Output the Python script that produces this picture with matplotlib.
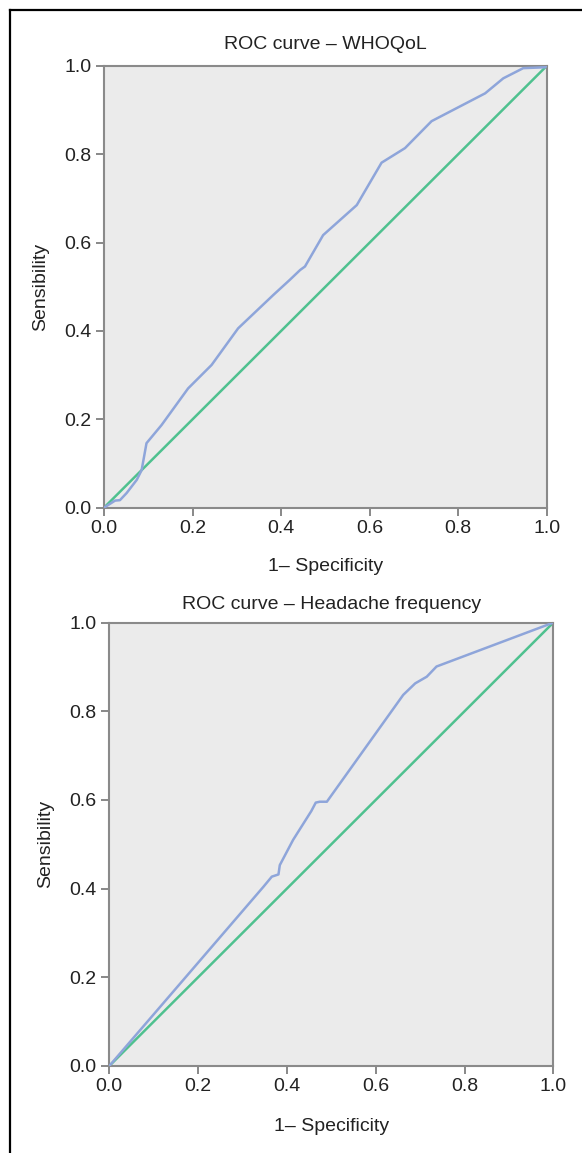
import matplotlib

matplotlib.use("Agg")
import matplotlib.pyplot as plt
from matplotlib.lines import Line2D

# ROC – WHOQoL
WHOQOL_FPR = [0.0, 0.025, 0.036, 0.051, 0.074, 0.085, 0.096, 0.130, 0.190,
              0.243, 0.303, 0.383, 0.420, 0.443, 0.454, 0.495, 0.571, 0.627,
              0.680, 0.740, 0.861, 0.902, 0.947, 0.996, 1.0]
WHOQOL_TPR = [0.0, 0.016, 0.017, 0.033, 0.063, 0.085, 0.146, 0.187, 0.270,
              0.323, 0.406, 0.482, 0.516, 0.538, 0.546, 0.617, 0.685, 0.781,
              0.814, 0.875, 0.938, 0.972, 0.995, 0.997, 1.0]

# ROC – Headache frequency
HEADACHE_FPR = [0.0, 0.347, 0.366, 0.381, 0.384, 0.414, 0.455, 0.465, 0.474,
                0.490, 0.662, 0.689, 0.715, 0.737, 1.0]
HEADACHE_TPR = [0.0, 0.404, 0.427, 0.432, 0.453, 0.510, 0.575, 0.594, 0.596,
                0.596, 0.837, 0.863, 0.878, 0.901, 1.0]

TICKS = [0.0, 0.2, 0.4, 0.6, 0.8, 1.0]
TICK_LABELS = ["0.0", "0.2", "0.4", "0.6", "0.8", "1.0"]

PANELS = [
    ("ROC curve \u2013 WHOQoL", WHOQOL_FPR, WHOQOL_TPR,
     [0.1787, 0.5597, 0.7606, 0.3831], 12, 15),
    ("ROC curve \u2013 Headache frequency", HEADACHE_FPR, HEADACHE_TPR,
     [0.1878, 0.0755, 0.7629, 0.3845], 10, 16.5),
]

plt.rcParams["font.family"] = ["Liberation Sans", "DejaVu Sans"]

figure = plt.figure(figsize=(5.82, 11.53), dpi=100)

# frame lines left over from the page crop
figure.add_artist(Line2D([10 / 582, 1.0], [1 - 10 / 1153] * 2, color="black",
                         linewidth=1.6, transform=figure.transFigure))
figure.add_artist(Line2D([10 / 582] * 2, [0.0, 1 - 10 / 1153], color="black",
                         linewidth=1.6, transform=figure.transFigure))

for title, fpr, tpr, rect, title_pad, xlabel_pad in PANELS:
    axis = figure.add_axes(rect)
    axis.set_facecolor("#ebebeb")
    axis.plot([0, 1], [0, 1], color="#4fc18f", linewidth=1.8, zorder=2)
    axis.plot(fpr, tpr, color="#8ea5da", linewidth=1.8, zorder=3)
    axis.set_xlim(0, 1)
    axis.set_ylim(0, 1)
    axis.set_xticks(TICKS, TICK_LABELS)
    axis.set_yticks(TICKS, TICK_LABELS)
    axis.tick_params(direction="out", length=6, width=1.3, color="#7f7f7f",
                     labelsize=14, labelcolor="#222222", pad=3)
    for spine in axis.spines.values():
        spine.set_color("#8a8a8a")
        spine.set_linewidth(1.5)
    axis.set_title(title, fontsize=14, color="#222222", pad=title_pad)
    axis.set_xlabel("1\u2013 Specificity", fontsize=14, color="#222222",
                    labelpad=xlabel_pad)
    axis.set_ylabel("Sensibility", fontsize=14, color="#222222", labelpad=11)

figure.savefig("out.png", dpi=100)
plt.close(figure)
